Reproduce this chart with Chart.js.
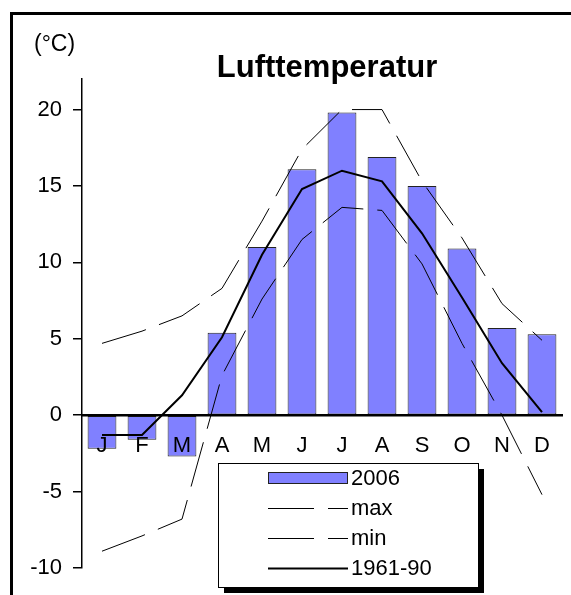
<!DOCTYPE html>
<html>
<head>
<meta charset="utf-8">
<title>Lufttemperatur</title>
<script src="https://cdn.jsdelivr.net/npm/chart.js@4/dist/chart.umd.min.js"></script>
<style>
  html, body { margin: 0; padding: 0; background: #fff; }
  #wrap { width: 571px; height: 595px; position: relative; }
</style>
</head>
<body>
<div id="wrap"><canvas id="tempChart" width="571" height="595"></canvas></div>
<script>
// Monate und Werte (°C)
const months = ['J', 'F', 'M', 'A', 'M', 'J', 'J', 'A', 'S', 'O', 'N', 'D'];
const temp2006 = [-2.2, -1.6, -2.7, 5.4, 11.0, 16.1, 19.8, 16.9, 15.0, 10.9, 5.7, 5.3];
const tempMax = [4.7, 5.5, 6.5, 8.3, 12.7, 17.4, 20.0, 20.0, 15.3, 11.6, 7.3, 4.9];
const tempMin = [-8.9, -7.9, -6.8, 2.6, 7.6, 11.5, 13.6, 13.4, 9.9, 4.7, 0.0, -5.2];
const tempMean = [-1.3, -1.3, 1.3, 5.1, 10.5, 14.8, 16.0, 15.3, 11.9, 7.7, 3.4, 0.2];
const yTicks = [-10, -5, 0, 5, 10, 15, 20];

const FONT = "'Liberation Sans', Arial, sans-serif";
Chart.defaults.font.family = FONT;
Chart.defaults.color = '#000';

// Rahmen, Titel, Einheit und Legende selbst zeichnen
const decoPlugin = {
    id: 'deco',
    afterDraw(chart) {
        const ctx = chart.ctx;
        ctx.save();

        // äußerer Rahmen
        ctx.strokeStyle = '#000';
        ctx.lineWidth = 3;
        ctx.strokeRect(11.5, 13.5, 700, 700);

        // Einheit + Titel
        ctx.fillStyle = '#000';
        ctx.textBaseline = 'alphabetic';
        ctx.textAlign = 'left';
        ctx.font = '23px ' + FONT;
        ctx.fillText('(°C)', 34, 51);
        ctx.textAlign = 'center';
        ctx.font = 'bold 31px ' + FONT;
        ctx.fillText('Lufttemperatur', 327, 77);

        // Legende
        const bx = 218, by = 463, bw = 260, bh = 124;
        ctx.fillStyle = '#000';
        ctx.fillRect(bx + 6, by + 6, bw, bh);
        ctx.fillStyle = '#fff';
        ctx.fillRect(bx, by, bw, bh);
        ctx.strokeStyle = '#000';
        ctx.lineWidth = 1;
        ctx.strokeRect(bx + 0.5, by + 0.5, bw, bh);

        const order = [3, 1, 2, 0];
        ctx.font = '22px ' + FONT;
        ctx.textAlign = 'left';
        ctx.textBaseline = 'middle';
        order.forEach((di, i) => {
            const ds = chart.data.datasets[di];
            const y = 478 + i * 30;
            if (ds.type === 'bar') {
                ctx.fillStyle = ds.backgroundColor;
                ctx.fillRect(268, y - 5.5, 79, 11);
                ctx.strokeStyle = ds.borderColor;
                ctx.lineWidth = 1;
                ctx.strokeRect(268.5, y - 5.5, 79, 11);
            } else {
                ctx.strokeStyle = ds.borderColor;
                ctx.lineWidth = ds.borderWidth;
                ctx.setLineDash(ds.borderDash || []);
                ctx.beginPath();
                ctx.moveTo(268, y + 0.5);
                ctx.lineTo(348, y + 0.5);
                ctx.stroke();
                ctx.setLineDash([]);
            }
            ctx.fillStyle = '#000';
            ctx.fillText(ds.label, 351, y + 1);
        });

        ctx.restore();
    }
};

const ctx = document.getElementById('tempChart').getContext('2d');
const chart = new Chart(ctx, {
    data: {
        labels: months,
        datasets: [
            {
                type: 'line',
                label: '1961-90',
                data: tempMean,
                borderColor: '#000',
                borderWidth: 2,
                pointRadius: 0,
                tension: 0,
                fill: false,
                order: 0
            },
            {
                type: 'line',
                label: 'max',
                data: tempMax,
                borderColor: '#000',
                borderWidth: 1,
                borderDash: [46, 14],
                pointRadius: 0,
                tension: 0,
                fill: false,
                order: 0
            },
            {
                type: 'line',
                label: 'min',
                data: tempMin,
                borderColor: '#000',
                borderWidth: 1,
                borderDash: [46, 14],
                pointRadius: 0,
                tension: 0,
                fill: false,
                order: 0
            },
            {
                type: 'bar',
                label: '2006',
                data: temp2006,
                backgroundColor: '#8080FF',
                borderColor: '#222',
                borderWidth: 1,
                borderSkipped: false,
                barPercentage: 0.72,
                categoryPercentage: 1.0,
                order: 1
            }
        ]
    },
    options: {
        responsive: false,
        animation: false,
        layout: {
            padding: { left: 0, right: 9, top: 79, bottom: 27 }
        },
        plugins: {
            legend: { display: false },
            title: { display: false },
            tooltip: { enabled: false }
        },
        scales: {
            x: {
                position: { y: 0 },
                offset: true,
                grid: { display: false, drawTicks: false },
                border: { display: true, color: '#000', width: 2.5, z: 1 },
                ticks: {
                    color: '#000',
                    padding: 18,
                    maxRotation: 0,
                    autoSkip: false,
                    z: 1,
                    font: { size: 22 }
                }
            },
            y: {
                min: -10,
                max: 22,
                afterBuildTicks: function(scale) {
                    scale.ticks = yTicks.map(v => ({ value: v }));
                },
                afterFit: function(scale) {
                    scale.width = 82;
                },
                grid: {
                    drawOnChartArea: false,
                    drawTicks: true,
                    tickLength: 9,
                    color: '#000',
                    lineWidth: 1.5
                },
                border: { display: true, color: '#000', width: 1.5 },
                ticks: {
                    color: '#000',
                    padding: 11,
                    font: { size: 22 }
                }
            }
        }
    },
    plugins: [decoPlugin]
});

console.log('Lufttemperatur chart ready');
</script>
</body>
</html>
